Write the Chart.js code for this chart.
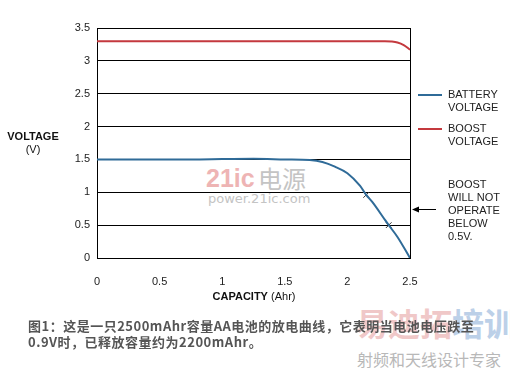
<!DOCTYPE html>
<html>
<head>
<meta charset="utf-8">
<script src="https://cdn.jsdelivr.net/npm/chart.js@4"></script>
<style>
  body { margin: 0; background: #fff; }
  #wrap { position: relative; width: 510px; height: 374px; font-family: "Liberation Sans", Arial, sans-serif; }
  #myChart { position: absolute; left: 0; top: 0; }
  .txt { position: absolute; white-space: nowrap; }
</style>
</head>
<body>
<div id="wrap">
  <div class="txt" style="left:206px;top:164px;font:bold 25px 'Liberation Sans',sans-serif;color:#eeb4b4;">21ic</div>
  <div class="txt" style="left:258px;top:164px;font:24px 'Noto Sans CJK SC',sans-serif;line-height:28px;color:#c4c4c4;">电源</div>
  <div class="txt" style="left:208px;top:191px;font:13px 'DejaVu Sans',sans-serif;color:#c4c4c4;">power.21ic.com</div>
  <div class="txt" style="left:356px;top:302px;font:bold 32px 'Noto Sans CJK SC',sans-serif;line-height:40px;"><span style="color:#f0c8c8">易迪拓</span><span style="color:#bcd0e8">培训</span></div>
  <div class="txt" style="left:357px;top:349px;font:16px 'Noto Sans CJK SC',sans-serif;line-height:20px;color:#b8b8b8;">射频和天线设计专家</div>
  <canvas id="myChart" width="510" height="374"></canvas>
  <div class="txt" id="caption" style="left:28px;top:318px;font:bold 13px 'Noto Sans CJK SC',sans-serif;line-height:16px;color:#555;letter-spacing:0.5px;">图1：这是一只2500mAhr容量AA电池的放电曲线，它表明当电池电压跌至<br>0.9V时，已释放容量约为2200mAhr。</div>
</div>
<script>
const batteryX = [0, 0.25, 0.5, 0.75, 1.0, 1.25, 1.5, 1.7, 1.8, 1.9, 2.0, 2.1, 2.15, 2.2, 2.3, 2.33, 2.4, 2.5];
const batteryY = [1.50, 1.50, 1.50, 1.50, 1.505, 1.51, 1.50, 1.49, 1.46, 1.39, 1.29, 1.10, 0.96, 0.85, 0.58, 0.50, 0.32, 0.0];
const boostX = [0, 1.0, 2.0, 2.3, 2.35, 2.4, 2.45, 2.5];
const boostY = [3.3, 3.3, 3.3, 3.3, 3.295, 3.28, 3.24, 3.17];
const markX = [2.15, 2.33];
const markY = [0.96, 0.50];
const xTicks = [0, 0.5, 1, 1.5, 2, 2.5];
const yTicks = [0, 0.5, 1, 1.5, 2, 2.5, 3, 3.5];

const BLUE = '#2f6b98';
const RED = '#c4393e';

function pts(xs, ys) {
    return xs.map((x, i) => ({ x: x, y: ys[i] }));
}

const extras = {
    id: 'extras',
    afterDraw(chart) {
        const c = chart.ctx;
        const a = chart.chartArea;
        c.save();
        // right border
        c.strokeStyle = '#000';
        c.lineWidth = 1;
        c.beginPath();
        c.moveTo(Math.round(a.right) + 0.5, a.top);
        c.lineTo(Math.round(a.right) + 0.5, a.bottom);
        c.stroke();

        // legend
        c.lineWidth = 2;
        c.strokeStyle = BLUE;
        c.beginPath(); c.moveTo(418, 95); c.lineTo(442, 95); c.stroke();
        c.strokeStyle = RED;
        c.beginPath(); c.moveTo(418, 129); c.lineTo(442, 129); c.stroke();
        c.fillStyle = '#222';
        c.font = '11px "Liberation Sans", Arial, sans-serif';
        c.textBaseline = 'middle';
        c.textAlign = 'left';
        c.fillText('BATTERY', 448, 95);
        c.fillText('VOLTAGE', 448, 108);
        c.fillText('BOOST', 448, 129);
        c.fillText('VOLTAGE', 448, 142);
        ['BOOST', 'WILL NOT', 'OPERATE', 'BELOW', '0.5V.'].forEach((t, i) => {
            c.fillText(t, 448, 185 + i * 13);
        });

        // arrow
        c.strokeStyle = '#000';
        c.lineWidth = 1;
        c.beginPath(); c.moveTo(436, 209.5); c.lineTo(416, 209.5); c.stroke();
        c.fillStyle = '#000';
        c.beginPath(); c.moveTo(412, 209.5); c.lineTo(419, 206.5); c.lineTo(419, 212.5); c.closePath(); c.fill();

        // axis titles
        c.fillStyle = '#111';
        c.textAlign = 'center';
        c.font = 'bold 11px "Liberation Sans", Arial, sans-serif';
        c.fillText('VOLTAGE', 33, 137);
        c.font = '11px "Liberation Sans", Arial, sans-serif';
        c.fillText('(V)', 33, 150);

        c.textAlign = 'left';
        c.font = 'bold 11px "Liberation Sans", Arial, sans-serif';
        const w1 = c.measureText('CAPACITY').width;
        c.font = '11px "Liberation Sans", Arial, sans-serif';
        const w2 = c.measureText(' (Ahr)').width;
        const sx = 254 - (w1 + w2) / 2;
        c.font = 'bold 11px "Liberation Sans", Arial, sans-serif';
        c.fillText('CAPACITY', sx, 297);
        c.font = '11px "Liberation Sans", Arial, sans-serif';
        c.fillText(' (Ahr)', sx + w1, 297);
        c.restore();
    }
};

const ctx = document.getElementById('myChart').getContext('2d');
new Chart(ctx, {
    type: 'line',
    data: {
        datasets: [
            {
                label: 'BOOST VOLTAGE',
                data: pts(boostX, boostY),
                borderColor: RED,
                borderWidth: 2,
                pointRadius: 0,
                cubicInterpolationMode: 'monotone'
            },
            {
                label: 'BATTERY VOLTAGE',
                data: pts(batteryX, batteryY),
                borderColor: BLUE,
                borderWidth: 2,
                pointRadius: 0,
                cubicInterpolationMode: 'monotone'
            },
            {
                label: 'marks',
                data: pts(markX, markY),
                showLine: false,
                pointStyle: 'crossRot',
                pointRadius: 4,
                borderColor: '#333',
                borderWidth: 1
            }
        ]
    },
    options: {
        responsive: false,
        animation: false,
        layout: { padding: { left: 0, right: 100, top: 28, bottom: 0 } },
        plugins: { legend: { display: false }, tooltip: { enabled: false } },
        scales: {
            x: {
                type: 'linear',
                min: 0,
                max: 2.5,
                afterBuildTicks: s => { s.ticks = xTicks.map(v => ({ value: v })); },
                afterFit: s => { s.height = 116; },
                grid: { display: false },
                border: { color: '#000', width: 1 },
                ticks: {
                    color: '#222',
                    padding: 9,
                    callback: v => String(v),
                    font: { family: '"Liberation Sans", Arial, sans-serif', size: 11 }
                }
            },
            y: {
                min: 0,
                max: 3.5,
                afterBuildTicks: s => { s.ticks = yTicks.map(v => ({ value: v })); },
                afterFit: s => { s.width = 97; },
                grid: { color: '#000', lineWidth: 1, drawTicks: false },
                border: { color: '#000', width: 1 },
                ticks: {
                    color: '#222',
                    padding: 7,
                    callback: v => String(v),
                    font: { family: '"Liberation Sans", Arial, sans-serif', size: 11 }
                }
            }
        }
    },
    plugins: [extras]
});
</script>
</body>
</html>
